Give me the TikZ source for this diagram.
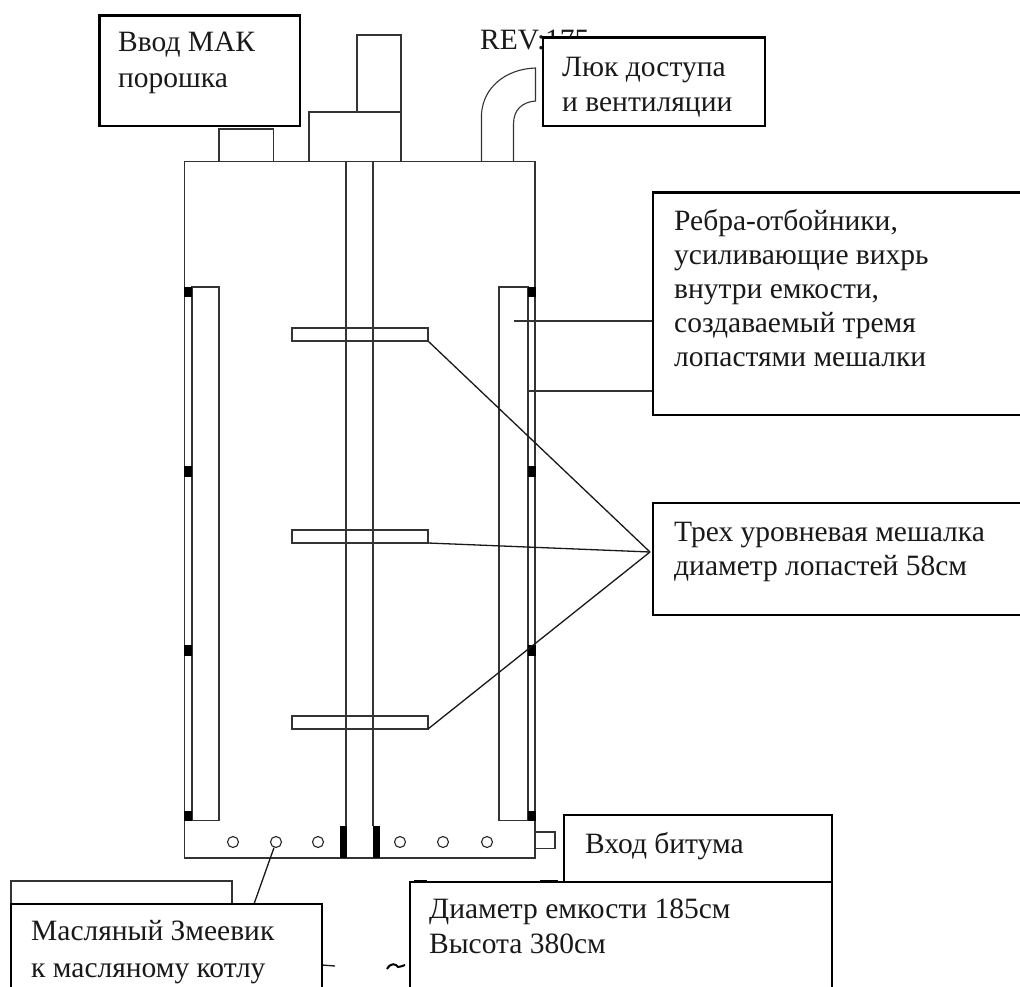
\documentclass[tikz,border=0pt]{standalone}
\usepackage{fontspec}
\setmainfont{Liberation Serif}
\tikzset{
  thin line/.style={draw=black!80,line width=1.1pt},
  callout/.style={draw=black,line width=2.2pt,fill=white},
  lead/.style={draw=black!90,line width=1.3pt},
  label text/.style={anchor=base west,inner sep=0pt,font=\fontsize{29.5}{29.5}\selectfont,text=black!90},
  solid bit/.style={fill=black},
  coil/.style={draw=black!85,line width=1.1pt,fill=white,circle,inner sep=0pt,minimum size=11pt}
}
\begin{document}
\begin{tikzpicture}[x=1pt,y=-1pt]
\useasboundingbox (0,0) rectangle (1020,987);
\fill[white] (0,0) rectangle (1020,987);
% REV text (behind Luk box)
\node[label text] (rev) at (480,50) {REV:175};
% vessel
\draw[thin line] (184.5,161.5) rectangle (535,858);
% top fittings
\draw[thin line] (219,161.5) rectangle (273.5,129);
\draw[thin line] (309,161.5) rectangle (401,112);
\draw[thin line] (357,112) rectangle (401,35);
% pipe
\draw[thin line] (481.5,161.5) -- (481.5,114) .. controls (483,88) and (505,69) .. (535.5,68) -- (535.5,101) .. controls (522,102) and (513.5,110) .. (513.5,124) -- (513.5,161.5);
% shaft
\draw[thin line] (346,161.5) -- (346,826);
\draw[thin line] (373,161.5) -- (373,826);
% baffles
\draw[thin line] (192,287) rectangle (219,820.5);
\draw[thin line] (499,287) rectangle (528,820.5);
\draw[thin line] (184.5,820.5) -- (192,820.5);
\draw[thin line] (528,820.5) -- (535,820.5);
\foreach \a/\b in {287/297,465.5/477,645/656,811/821}{
  \fill[solid bit] (184,\a) rectangle (192,\b);
  \fill[solid bit] (528,\a) rectangle (535.5,\b);
}
% paddles
\foreach \n/\y in {a/328,b/530,c/716}{
  \draw[thin line] (292,\y) rectangle (428,\y+13);
  \coordinate (p\n) at (428,\y+13);
}
\coordinate (conv) at (650,552);
\draw[lead] (pa) -- (conv);
\draw[lead] (pb) -- (conv);
\draw[lead] (pc) -- (conv);
% bottom
\fill[solid bit] (340,826) rectangle (347,858);
\fill[solid bit] (373,826) rectangle (380,858);
\foreach \n/\x in {1/233,2/276,3/318,4/400,5/443,6/487}{
  \node[coil] (c\n) at (\x,842) {};
}
\draw[thin line] (535,832) rectangle (555,848.5);
% lead lines right
\coordinate (f1) at (514,321);
\coordinate (f2) at (528,391);
\coordinate (t1) at (653,321);
\coordinate (t2) at (653,391);
\draw[thin line] (f1) -- (t1);
\draw[thin line] (f2) -- (t2);
% back box bottom-left
\draw[thin line,fill=white] (11,904) -- (11,881) -- (232,881) -- (232,904);
% fragments
\coordinate (frag1) at (322,965);
\coordinate (frag2) at (335,966);
\draw[lead] (frag1) -- (frag2);
\coordinate (til1) at (387,969);
\coordinate (til2) at (405,965);
\draw[black,line width=2pt] (til1) .. controls (391,962) and (396,964) .. (398,967) .. controls (400,967) and (402,966) .. (til2);
\draw[black,line width=2pt] (414,880.5) -- (427,880.5) (540,880.5) -- (558,880.5);
% callouts
\draw[callout] (99.5,15.5) rectangle (300,126);
\node[label text] at (118,52) {Ввод МАК};
\node[label text] at (118,88) {порошка};
\draw[callout] (543,37.5) rectangle (765,126);
\node[label text] at (562,77) {Люк доступа};
\node[label text] at (562,112) {и вентиляции};
\fill[white] (653,192.5) rectangle (1020,415);
\draw[callout] (1022,192.5) -- (653,192.5) -- (653,415) -- (1022,415);
\node[label text] at (674,230) {Ребра-отбойники,};
\node[label text] at (674,264) {усиливающие вихрь};
\node[label text] at (674,298) {внутри емкости,};
\node[label text] at (674,332) {создаваемый тремя};
\node[label text] at (674,366) {лопастями мешалки};
\draw[callout] (1022,503) -- (653,503) -- (653,615) -- (1022,615);
\node[label text] at (674,541) {Трех уровневая мешалка};
\node[label text] at (674,575) {диаметр лопастей 58см};
\draw[callout] (564,882) -- (564,815) -- (832,815) -- (832,882);
\node[label text] at (585,853) {Вход битума};
% lead to coil
\coordinate (mz) at (254,904);
\draw[lead] (c2) -- (mz);
\draw[callout] (11,990) -- (11,904) -- (322,904) -- (322,990);
\node[label text] at (31,940) {Масляный Змеевик};
\node[label text] at (31,977) {к масляному котлу};
\draw[callout] (410,990) -- (410,882) -- (832,882) -- (832,990);
\node[label text] at (429,918) {Диаметр емкости 185см};
\node[label text] at (429,953) {Высота 380см};
\end{tikzpicture}
\end{document}
